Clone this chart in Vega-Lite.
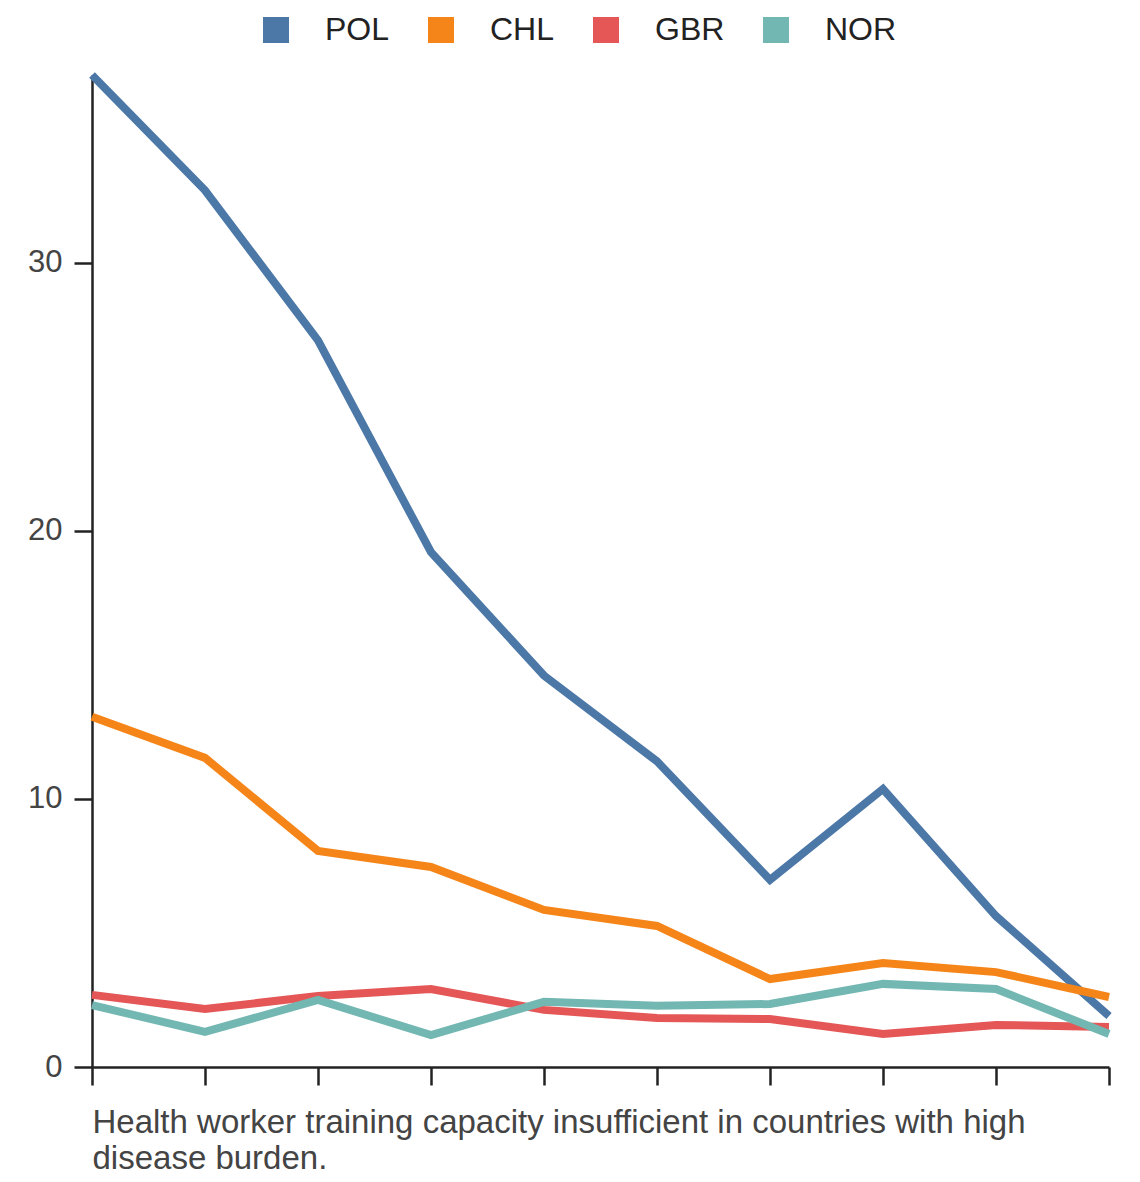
{
  "$schema": "https://vega.github.io/schema/vega-lite/v6.json",
  "autosize": "none",
  "width": 1017,
  "height": 992,
  "padding": {"left": 92, "top": 75, "right": 31, "bottom": 115},
  "background": "white",
  "config": {
    "font": "Liberation Sans",
    "view": {"stroke": null},
    "axis": {
      "domainColor": "#222222",
      "domainWidth": 2.5,
      "tickColor": "#222222",
      "tickWidth": 2.5,
      "tickSize": 18,
      "grid": false,
      "labelFont": "Liberation Sans",
      "labelFontSize": 31,
      "labelColor": "#444444",
      "labelPadding": 12
    },
    "legend": {
      "labelFont": "Liberation Sans",
      "labelFontSize": 32,
      "labelColor": "#222222"
    }
  },
  "data": {
    "values": [
      {"i": 0, "country": "POL", "value": 37.0},
      {"i": 1, "country": "POL", "value": 32.7},
      {"i": 2, "country": "POL", "value": 27.1},
      {"i": 3, "country": "POL", "value": 19.2},
      {"i": 4, "country": "POL", "value": 14.6},
      {"i": 5, "country": "POL", "value": 11.4},
      {"i": 6, "country": "POL", "value": 6.98},
      {"i": 7, "country": "POL", "value": 10.37},
      {"i": 8, "country": "POL", "value": 5.63},
      {"i": 9, "country": "POL", "value": 1.9},
      {"i": 0, "country": "CHL", "value": 13.06},
      {"i": 1, "country": "CHL", "value": 11.53},
      {"i": 2, "country": "CHL", "value": 8.06},
      {"i": 3, "country": "CHL", "value": 7.46},
      {"i": 4, "country": "CHL", "value": 5.86},
      {"i": 5, "country": "CHL", "value": 5.26},
      {"i": 6, "country": "CHL", "value": 3.28},
      {"i": 7, "country": "CHL", "value": 3.88},
      {"i": 8, "country": "CHL", "value": 3.54},
      {"i": 9, "country": "CHL", "value": 2.61},
      {"i": 0, "country": "GBR", "value": 2.69},
      {"i": 1, "country": "GBR", "value": 2.16},
      {"i": 2, "country": "GBR", "value": 2.65},
      {"i": 3, "country": "GBR", "value": 2.91},
      {"i": 4, "country": "GBR", "value": 2.13},
      {"i": 5, "country": "GBR", "value": 1.83},
      {"i": 6, "country": "GBR", "value": 1.79},
      {"i": 7, "country": "GBR", "value": 1.23},
      {"i": 8, "country": "GBR", "value": 1.57},
      {"i": 9, "country": "GBR", "value": 1.49},
      {"i": 0, "country": "NOR", "value": 2.31},
      {"i": 1, "country": "NOR", "value": 1.31},
      {"i": 2, "country": "NOR", "value": 2.5},
      {"i": 3, "country": "NOR", "value": 1.19},
      {"i": 4, "country": "NOR", "value": 2.43},
      {"i": 5, "country": "NOR", "value": 2.28},
      {"i": 6, "country": "NOR", "value": 2.35},
      {"i": 7, "country": "NOR", "value": 3.1},
      {"i": 8, "country": "NOR", "value": 2.91},
      {"i": 9, "country": "NOR", "value": 1.23}
    ]
  },
  "mark": {"type": "line", "strokeWidth": 8, "strokeJoin": "miter"},
  "encoding": {
    "x": {
      "field": "i",
      "type": "quantitative",
      "scale": {"domain": [0, 9], "nice": false, "zero": false},
      "axis": {
        "values": [0, 1, 2, 3, 4, 5, 6, 7, 8, 9],
        "labels": false,
        "title": ["Health worker training capacity insufficient in countries with high", "disease burden."],
        "titleFont": "Liberation Sans",
        "titleFontSize": 33,
        "titleFontWeight": "normal",
        "titleColor": "#444444",
        "titleAnchor": "start",
        "titleAlign": "left",
        "titleBaseline": "top",
        "titleLineHeight": 36,
        "titlePadding": 20
      }
    },
    "y": {
      "field": "value",
      "type": "quantitative",
      "scale": {"domain": [0, 37], "nice": false},
      "axis": {"values": [0, 10, 20, 30], "title": null}
    },
    "color": {
      "field": "country",
      "type": "nominal",
      "title": null,
      "sort": ["POL", "CHL", "GBR", "NOR"],
      "scale": {
        "domain": ["POL", "CHL", "GBR", "NOR"],
        "range": ["#4c78a8", "#f58518", "#e45756", "#72b7b2"]
      },
      "legend": {
        "orient": "none",
        "legendX": 168,
        "legendY": -61,
        "direction": "horizontal",
        "symbolType": "square",
        "symbolSize": 676,
        "symbolOpacity": 1,
        "labelOffset": 33,
        "columnPadding": 35,
        "encode": {
          "symbols": {
            "update": {
              "fill": {"scale": "color", "field": "value"},
              "strokeWidth": {"value": 0}
            }
          }
        }
      }
    }
  }
}
